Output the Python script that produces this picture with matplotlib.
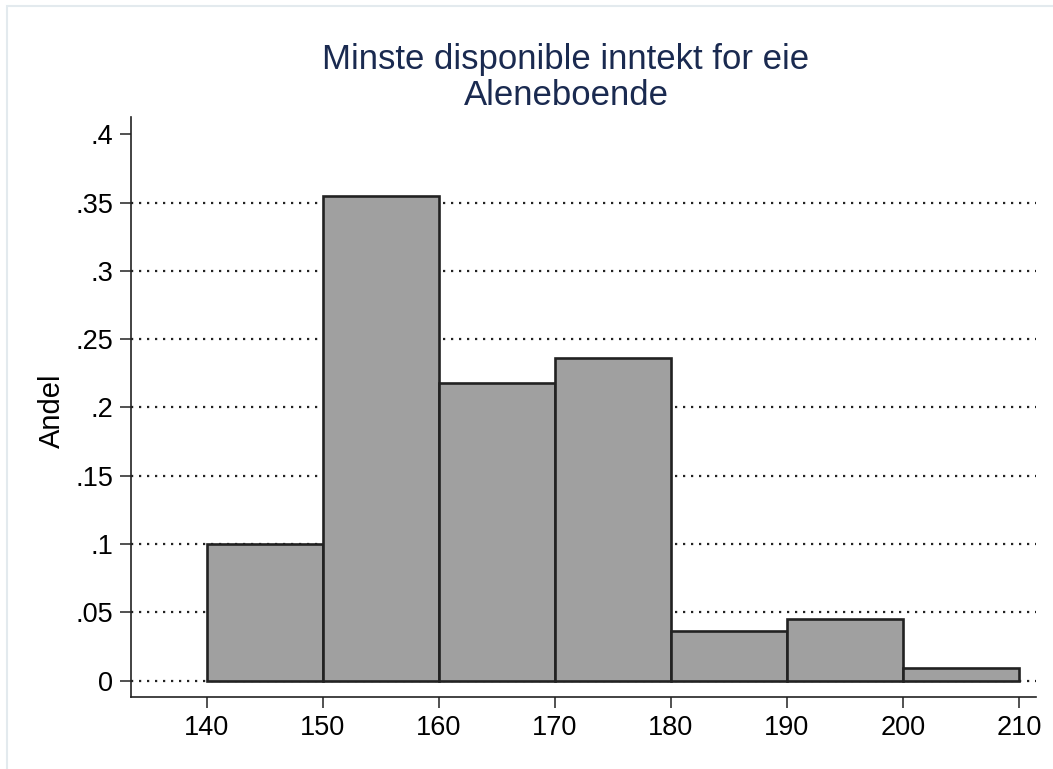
import matplotlib
matplotlib.use("Agg")
import matplotlib.pyplot as plt
from matplotlib.patches import Rectangle

plt.rcParams['font.family'] = ['Liberation Sans', 'DejaVu Sans']

bin_edges = [140, 150, 160, 170, 180, 190, 200, 210]
shares = [0.100, 0.355, 0.218, 0.2365, 0.0363, 0.0454, 0.0092]
yticks = [0, 0.05, 0.1, 0.15, 0.2, 0.25, 0.3, 0.35, 0.4]
ytick_labels = ["0", ".05", ".1", ".15", ".2", ".25", ".3", ".35", ".4"]
grid_vals = [0, 0.05, 0.1, 0.15, 0.2, 0.25, 0.3, 0.35]
xticks = [140, 150, 160, 170, 180, 190, 200, 210]
title_lines = "Minste disponible inntekt for eie\nAleneboende"
ylabel = "Andel"

W, H = 1053, 769
fig = plt.figure(figsize=(W / 100, H / 100), dpi=100)
fig.patch.set_facecolor("white")

# outer light border
fig.add_artist(Rectangle((7 / W, -0.05), 1.2, 1 - 6 / H + 0.05,
                         transform=fig.transFigure, fill=False,
                         edgecolor="#e3eaee", linewidth=1.5))

left, right, top, bottom = 131, 1036, 117, 697
ax = fig.add_axes([left / W, 1 - bottom / H, (right - left) / W, (bottom - top) / H])

widths = [bin_edges[i + 1] - bin_edges[i] for i in range(len(shares))]
ax.bar(bin_edges[:-1], shares, width=widths, align="edge",
       color="#a0a0a0", edgecolor="#222222", linewidth=1.9, zorder=3)

for g in grid_vals:
    ax.axhline(g, color="#222222", linestyle=(0, (1, 2.6)), linewidth=1.6,
               dash_capstyle="butt", zorder=1)

ax.set_xlim(133.48, 211.47)
ax.set_ylim(-0.012, 0.4127)
ax.set_yticks(yticks)
ax.set_yticklabels(ytick_labels)
ax.set_xticks(xticks)
ax.tick_params(axis="both", labelsize=19.5, length=8, width=1.2, color="#333333",
               direction="out", pad=5)

for s in ["top", "right"]:
    ax.spines[s].set_visible(False)
for s in ["left", "bottom"]:
    ax.spines[s].set_color("#222222")
    ax.spines[s].set_linewidth(1.2)

ax.set_ylabel(ylabel, fontsize=21)
ax.yaxis.set_label_coords(52 / W, 1 - 411 / H, transform=fig.transFigure)
ax.yaxis.label.set_va("center")

fig.text(566 / W, 1 - 43 / H, title_lines, ha="center", va="top",
         fontsize=25, color="#1a2a50", linespacing=1.12)

fig.savefig("out.png", dpi=100, facecolor="white")
